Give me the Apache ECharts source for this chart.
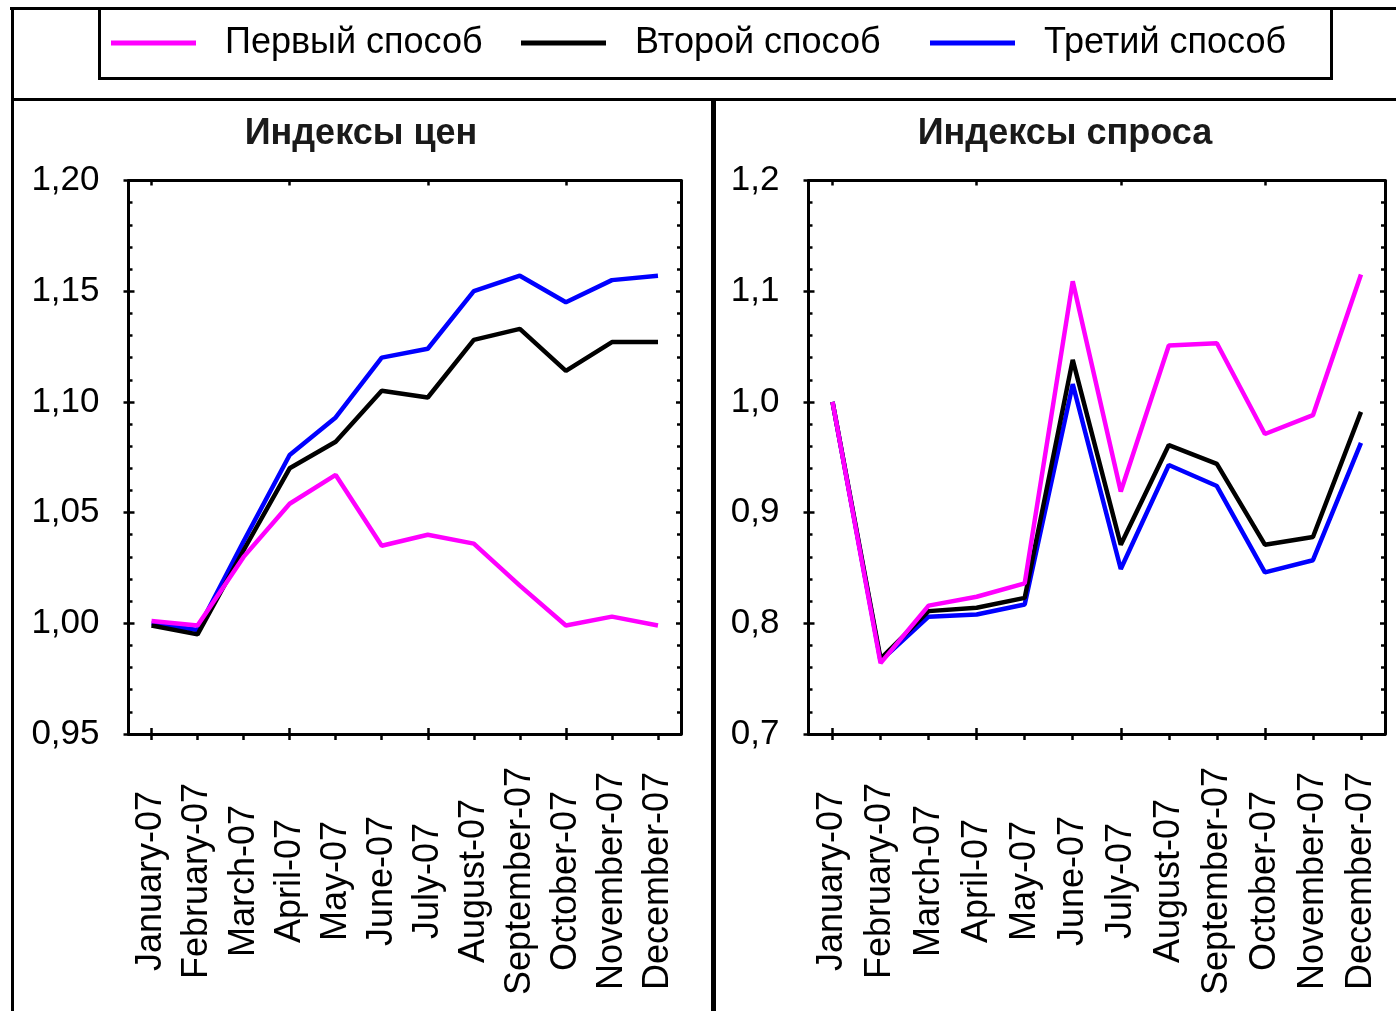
<!DOCTYPE html>
<html>
<head>
<meta charset="utf-8">
<title>Индексы цен и спроса</title>
<script src="https://cdn.jsdelivr.net/npm/echarts@6/dist/echarts.min.js"></script>
<style>
  html, body { margin: 0; padding: 0; background: #ffffff; }
  #chart { width: 1396px; height: 1011px; }
</style>
</head>
<body>
<div id="chart"></div>
<script>
// ---- data -------------------------------------------------------------
const months = ['January-07', 'February-07', 'March-07', 'April-07', 'May-07', 'June-07',
                'July-07', 'August-07', 'September-07', 'October-07', 'November-07', 'December-07'];

const seriesNames = ['Первый способ', 'Второй способ', 'Третий способ'];

const priceTitle = 'Индексы цен';
const demandTitle = 'Индексы спроса';

// price indices
const priceFirst  = [1.001, 0.999, 1.030, 1.054, 1.067, 1.035, 1.040, 1.036, 1.017, 0.999, 1.003, 0.999];
const priceSecond = [0.999, 0.995, 1.033, 1.070, 1.082, 1.105, 1.102, 1.128, 1.133, 1.114, 1.127, 1.127];
const priceThird  = [1.000, 0.997, 1.037, 1.076, 1.093, 1.120, 1.124, 1.150, 1.157, 1.145, 1.155, 1.157];

// demand indices
const demandFirst  = [1.000, 0.764, 0.816, 0.824, 0.836, 1.109, 0.919, 1.051, 1.053, 0.971, 0.988, 1.115];
const demandSecond = [1.000, 0.768, 0.811, 0.814, 0.823, 1.038, 0.871, 0.961, 0.944, 0.871, 0.878, 0.991];
const demandThird  = [1.000, 0.766, 0.806, 0.808, 0.817, 1.016, 0.849, 0.943, 0.924, 0.846, 0.857, 0.963];

// value-axis tick labels (decimal comma)
const priceTicks  = ['0,95', '1,00', '1,05', '1,10', '1,15', '1,20'];
const demandTicks = ['0,7', '0,8', '0,9', '1,0', '1,1', '1,2'];

// ---- styling ----------------------------------------------------------
const FONT = "'Liberation Sans', Arial, sans-serif";
const COLORS = ['#ff00ff', '#000000', '#0000ff'];
const LINE_Z = [5, 4, 3];
const AXIS_LINE = { color: '#000', width: 3 };
const TICK_LINE = { color: '#000', width: 2.5 };

const panels = [
  { grid: { left: 128.5, top: 180.5, width: 552.5, height: 553.5 },
    min: 0.95, max: 1.20, interval: 0.05, ticks: priceTicks,
    data: [priceFirst, priceSecond, priceThird] },
  { grid: { left: 808.5, top: 180.5, width: 576.5, height: 553.5 },
    min: 0.7, max: 1.2, interval: 0.1, ticks: demandTicks,
    data: [demandFirst, demandSecond, demandThird] }
];

// three x axes per panel: labelled bottom axis, inner half of the bottom ticks, mirrored top axis
function buildXAxes(gridIndex) {
  const base = { type: 'category', gridIndex: gridIndex, data: months, boundaryGap: true,
                 splitLine: { show: false } };
  return [
    Object.assign({}, base, {
      position: 'bottom',
      axisLine: { show: true, onZero: false, lineStyle: AXIS_LINE },
      axisTick: { show: true, alignWithLabel: true, inside: false, length: 6, lineStyle: TICK_LINE },
      axisLabel: { show: true, interval: 0, rotate: 90, align: 'center', verticalAlign: 'middle',
                   margin: 147, fontSize: 36, fontFamily: FONT, color: '#000' }
    }),
    Object.assign({}, base, {
      position: 'bottom',
      axisLine: { show: false, onZero: false },
      axisTick: { show: true, alignWithLabel: true, inside: true, length: 6, lineStyle: TICK_LINE },
      axisLabel: { show: false }
    }),
    Object.assign({}, base, {
      position: 'top',
      axisLine: { show: true, onZero: false, lineStyle: AXIS_LINE },
      axisTick: { show: true, alignWithLabel: true, inside: true, length: 5, lineStyle: TICK_LINE },
      axisLabel: { show: false }
    })
  ];
}

// three y axes per panel: labelled left axis, inner left ticks with minors, mirrored right axis
function buildYAxes(gridIndex, p) {
  const base = { type: 'value', gridIndex: gridIndex, min: p.min, max: p.max, interval: p.interval,
                 splitLine: { show: false } };
  return [
    Object.assign({}, base, {
      position: 'left',
      axisLine: { show: true, onZero: false, lineStyle: AXIS_LINE },
      axisTick: { show: true, inside: false, length: 5, lineStyle: TICK_LINE },
      axisLabel: { show: true, margin: 29, fontSize: 35, fontFamily: FONT, color: '#000',
                   formatter: function (v) { return p.ticks[Math.round((v - p.min) / p.interval)]; } }
    }),
    Object.assign({}, base, {
      position: 'left',
      axisLine: { show: false, onZero: false },
      axisTick: { show: true, inside: true, length: 6, lineStyle: TICK_LINE },
      minorTick: { show: true, splitNumber: 5, length: 4, lineStyle: TICK_LINE },
      axisLabel: { show: false }
    }),
    Object.assign({}, base, {
      position: 'right',
      axisLine: { show: true, onZero: false, lineStyle: AXIS_LINE },
      axisTick: { show: true, inside: true, length: 5, lineStyle: TICK_LINE },
      minorTick: { show: true, splitNumber: 5, length: 4, lineStyle: TICK_LINE },
      axisLabel: { show: false }
    })
  ];
}

const grids = [], xAxes = [], yAxes = [], series = [];
panels.forEach(function (p, gi) {
  grids.push(Object.assign({ containLabel: false }, p.grid));
  xAxes.push.apply(xAxes, buildXAxes(gi));
  yAxes.push.apply(yAxes, buildYAxes(gi, p));
  p.data.forEach(function (values, si) {
    series.push({
      name: seriesNames[si], type: 'line', data: values,
      xAxisIndex: gi * 3, yAxisIndex: gi * 3,
      showSymbol: false, symbol: 'none', smooth: false, z: LINE_Z[si],
      lineStyle: { color: COLORS[si], width: 4.5 },
      itemStyle: { color: COLORS[si] }
    });
  });
});

// one legend block per entry so each sits at its own place in the framed strip
const legendLeft = [111, 521, 930];
const legends = seriesNames.map(function (name, i) {
  return {
    data: [name], left: legendLeft[i], top: 25, padding: 0, orient: 'horizontal',
    icon: 'rect', itemWidth: 85, itemHeight: 5, selectedMode: false,
    textStyle: { fontSize: 36, fontFamily: FONT, color: '#000', padding: [0, 0, 0, 24] }
  };
});

// frame lines around legend and panels, plus the panel titles
const frame = { stroke: '#000', lineWidth: 3 };
const graphics = [
  { type: 'line', shape: { x1: 10, y1: 8.5, x2: 1396, y2: 8.5 }, style: frame },
  { type: 'line', shape: { x1: 12.5, y1: 7, x2: 12.5, y2: 1011 }, style: frame },
  { type: 'line', shape: { x1: 11, y1: 99.5, x2: 1396, y2: 99.5 }, style: frame },
  { type: 'line', shape: { x1: 713.5, y1: 99, x2: 713.5, y2: 1011 }, style: { stroke: '#000', lineWidth: 5 } },
  { type: 'line', shape: { x1: 99.5, y1: 8, x2: 99.5, y2: 79 }, style: frame },
  { type: 'line', shape: { x1: 98, y1: 78.5, x2: 1333, y2: 78.5 }, style: frame },
  { type: 'line', shape: { x1: 1331.5, y1: 8, x2: 1331.5, y2: 79 }, style: frame },
  { type: 'text', x: 361, y: 134,
    style: { text: priceTitle, fontSize: 36, fontWeight: 'bold', fontFamily: FONT, fill: '#1a1a1a',
             align: 'center', verticalAlign: 'middle' } },
  { type: 'text', x: 1065, y: 134,
    style: { text: demandTitle, fontSize: 36, fontWeight: 'bold', fontFamily: FONT, fill: '#1a1a1a',
             align: 'center', verticalAlign: 'middle' } }
];

const chart = echarts.init(document.getElementById('chart'), null, { renderer: 'canvas' });
chart.setOption({
  animation: false,
  backgroundColor: '#ffffff',
  legend: legends,
  grid: grids,
  xAxis: xAxes,
  yAxis: yAxes,
  series: series,
  graphic: graphics
});
</script>
</body>
</html>
